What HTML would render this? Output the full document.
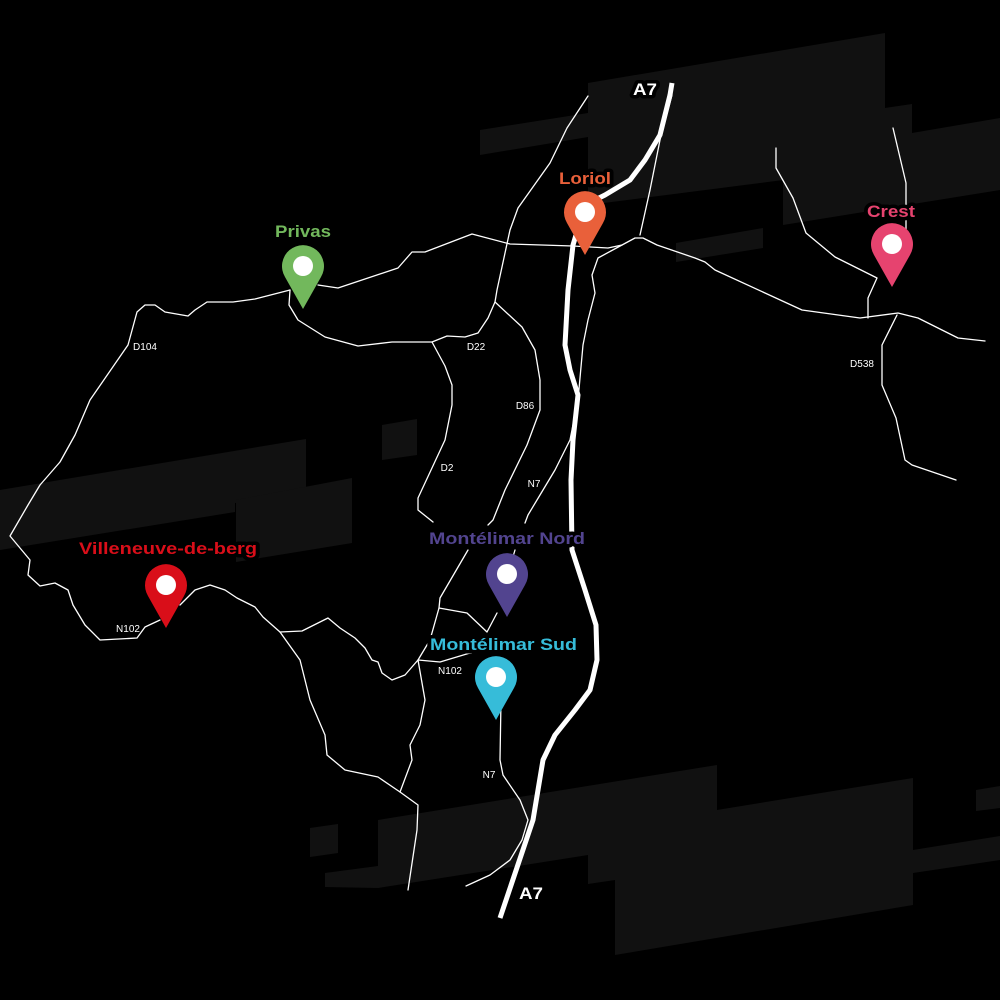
<!DOCTYPE html>
<html><head><meta charset="utf-8"><style>html,body{margin:0;padding:0;background:#000}svg{display:block}</style></head><body>
<svg width="1000" height="1000" viewBox="0 0 1000 1000" xmlns="http://www.w3.org/2000/svg">
<rect width="1000" height="1000" fill="#000"/>
<g fill="#111">
<polygon points="480,130 588,113 588,83 885,33 885,108 912,104 912,133 1000,118 1000,190 783,225 783,180 588,205 588,137 480,155"/>
<polygon points="676,243 763,228 763,248 676,262"/>
<polygon points="0,490 306,439 306,492 235,503 235,512 0,550"/>
<polygon points="236,500 352,478 352,543 236,562"/>
<polygon points="382,425 417,419 417,455 382,460"/>
<polygon points="310,828 338,824 338,853 310,857"/>
<polygon points="325,873 378,866 378,820 717,765 717,810 913,778 913,850 1000,836 1000,860 913,873 913,905 615,955 615,880 588,884 588,855 378,888 325,887"/>
<polygon points="976,790 1000,786 1000,808 976,811"/>
</g>
<g fill="none" stroke="#fff" stroke-width="1.3" stroke-linejoin="round" stroke-linecap="round">
<path d="M588,96 L567,128 L550,163 L518,208 L510,230 L497,290 L495,302 L488,318 L478,333 L465,337 L447,336 L432,342"/>
<path d="M985,341 L958,338 L918,318 L898,313 L860,318 L802,310 L715,270 L705,262 L695,258 L657,245 L643,238 L635,238 L622,245 L608,248 L573,246 L510,244 L472,234 L425,252 L412,252 L398,268 L338,288 L318,285 M290,290 L255,299 L233,302 L207,302 L195,310 L188,316 L165,312 L155,305 L145,305 L137,312 L128,345 L90,400 L75,435 L60,462 L40,485 L28,505 L10,536 L30,560 L28,575 L40,586 L55,583 L68,590 L73,605 L85,625 L100,640 L137,638 L145,627 L160,620 M180,605 L195,590 L210,585 L225,590 L237,598 L255,607 L263,617 L280,632 L302,631 L328,618 L340,628 L355,638 L365,648 L372,660 L378,662 L382,673 L392,680 L405,675 L418,660 L430,640 L439,608 L440,598 L468,550"/>
<path d="M439,608 L467,613 L487,632 L497,613"/>
<path d="M418,660 L440,662 L480,650"/>
<path d="M418,660 L425,700 L420,725 L410,745 L412,760 L400,792 L418,805 L417,830 L408,890"/>
<path d="M280,632 L300,660 L310,700 L325,735 L327,755 L345,770 L378,777 L400,792"/>
<path d="M290,290 L289,305 L298,320 L325,337 L358,346 L392,342 L432,342 L445,366 L452,385 L452,405 L445,440 L418,498 L418,510 L433,522"/>
<path d="M495,302 L522,327 L535,350 L540,380 L540,410 L527,445 L505,490 L493,520 L488,525"/>
<path d="M640,235 L650,190 L660,140 L672,95"/>
<path d="M622,245 L598,258 L592,275 L595,293 L588,320 L583,345 L578,400 L570,440 L555,470 L540,495 L528,515 L525,523"/>
<path d="M515,550 L512,560"/>
<path d="M484,690 L493,700 L501,700 L500,760 L503,775 L520,800 L528,820 L522,840 L510,860 L490,875 L466,886"/>
<path d="M776,148 L776,168 L793,198 L806,233 L835,257 L877,278 L868,298 L868,318"/>
<path d="M893,128 L906,183 L906,230"/>
<path d="M897,315 L882,345 L882,385 L896,418 L905,460 L912,465 L956,480"/>
</g>
<path d="M672,83 L670,95 L660,135 L645,160 L630,180 L605,195 L585,205 L573,245 L568,290 L565,345 L570,370 L578,395 L573,440 L571,480 L572,550 L585,590 L596,625 L597,660 L590,690 L575,710 L555,735 L543,760 L538,790 L533,820 L500,918" fill="none" stroke="#fff" stroke-width="5" stroke-linejoin="round"/>
<g font-family="Liberation Sans, sans-serif" font-weight="bold" font-size="17" stroke="#000" stroke-width="7" paint-order="stroke" stroke-linejoin="round" lengthAdjust="spacingAndGlyphs">
<text x="275" y="237" fill="#72b85c" textLength="56" lengthAdjust="spacingAndGlyphs">Privas</text>
<text x="559" y="184" fill="#e9603a" textLength="52" lengthAdjust="spacingAndGlyphs">Loriol</text>
<text x="867" y="217" fill="#e6436f" textLength="48" lengthAdjust="spacingAndGlyphs">Crest</text>
<text x="79" y="554" fill="#d90e19" textLength="178" lengthAdjust="spacingAndGlyphs">Villeneuve-de-berg</text>
<text x="429" y="544" fill="#52448f" textLength="156" lengthAdjust="spacingAndGlyphs">Montélimar Nord</text>
<text x="430" y="650" fill="#36bcd9" textLength="147" lengthAdjust="spacingAndGlyphs">Montélimar Sud</text>
<text x="633" y="95" fill="#fff" textLength="24" lengthAdjust="spacingAndGlyphs">A7</text>
<text x="519" y="899" fill="#fff" textLength="24" lengthAdjust="spacingAndGlyphs">A7</text>
</g>
<g font-family="Liberation Sans, sans-serif" font-size="10" fill="#fff" text-anchor="middle">
<text x="145" y="350">D104</text>
<text x="476" y="350">D22</text>
<text x="525" y="409">D86</text>
<text x="447" y="471">D2</text>
<text x="534" y="487">N7</text>
<text x="128" y="632">N102</text>
<text x="450" y="674">N102</text>
<text x="489" y="778">N7</text>
<text x="862" y="367">D538</text>
</g>
<g>
<g transform="translate(303,266)"><path d="M0,43 L-18,11 A21,21 0 1 1 18,11 Z" fill="#72b85c"/><circle r="10" fill="#fff"/></g>
<g transform="translate(585,212)"><path d="M0,43 L-18,11 A21,21 0 1 1 18,11 Z" fill="#e9603a"/><circle r="10" fill="#fff"/></g>
<g transform="translate(892,244)"><path d="M0,43 L-18,11 A21,21 0 1 1 18,11 Z" fill="#e6436f"/><circle r="10" fill="#fff"/></g>
<g transform="translate(166,585)"><path d="M0,43 L-18,11 A21,21 0 1 1 18,11 Z" fill="#d90e19"/><circle r="10" fill="#fff"/></g>
<g transform="translate(507,574)"><path d="M0,43 L-18,11 A21,21 0 1 1 18,11 Z" fill="#52448f"/><circle r="10" fill="#fff"/></g>
<g transform="translate(496,677)"><path d="M0,43 L-18,11 A21,21 0 1 1 18,11 Z" fill="#36bcd9"/><circle r="10" fill="#fff"/></g>
</g>
</svg>
</body></html>
